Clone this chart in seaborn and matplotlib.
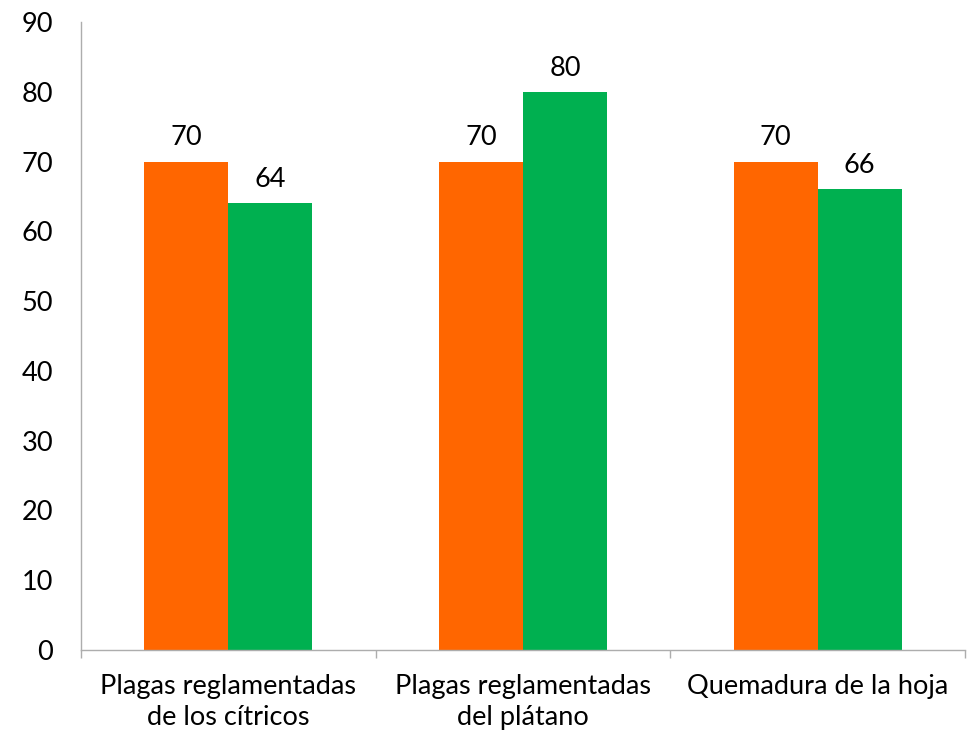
import seaborn as sns
import matplotlib.pyplot as plt
import pandas as pd

# values
categories = ["Plagas reglamentadas\nde los cítricos",
              "Plagas reglamentadas\ndel plátano",
              "Quemadura de la hoja"]
serie_1 = [70, 70, 70]
serie_2 = [64, 80, 66]
series_names = ["Serie 1", "Serie 2"]
colors = ["#FF6600", "#00B050"]

df = pd.DataFrame({
    "categoria": categories * 2,
    "valor": serie_1 + serie_2,
    "serie": [series_names[0]] * 3 + [series_names[1]] * 3,
})

sns.set_style("white")
plt.rcParams["font.family"] = ["Lato", "DejaVu Sans"]
plt.rcParams["text.color"] = "black"
plt.rcParams["xtick.color"] = "black"
plt.rcParams["ytick.color"] = "black"

FS = 19.5
axis_grey = "#ADADAD"

fig = plt.figure(figsize=(9.79, 7.38), dpi=100)
ax = fig.add_axes([0.0827, 0.1192, 0.903, 0.851])

sns.barplot(data=df, x="categoria", y="valor", hue="serie", palette=colors,
            width=0.57, gap=0, saturation=1, legend=False, linewidth=0, ax=ax)

for cont in ax.containers:
    ax.bar_label(cont, padding=8, fontsize=FS)

ax.set_ylim(0, 90)
ax.set_yticks(range(0, 91, 10))
ax.set_xlim(-0.5, 2.5)
ax.set_xlabel("")
ax.set_ylabel("")

# tick marks at category boundaries on x
ax.set_xticks([0, 1, 2])
ax.set_xticklabels(categories, fontsize=FS, linespacing=1.3)
ax.set_xticks([-0.5, 0.5, 1.5, 2.5], minor=True)
ax.tick_params(axis="x", which="major", length=0, pad=17)
ax.tick_params(axis="x", which="minor", length=6, width=1, color=axis_grey,
               direction="out")
ax.tick_params(axis="y", length=6, width=1, color=axis_grey, direction="out",
               labelsize=FS, pad=14)
ax.tick_params(axis="x", which="both", bottom=True)

for s in ["top", "right"]:
    ax.spines[s].set_visible(False)
for s in ["left", "bottom"]:
    ax.spines[s].set_color(axis_grey)
    ax.spines[s].set_linewidth(1)

fig.savefig("out.png", dpi=100)
